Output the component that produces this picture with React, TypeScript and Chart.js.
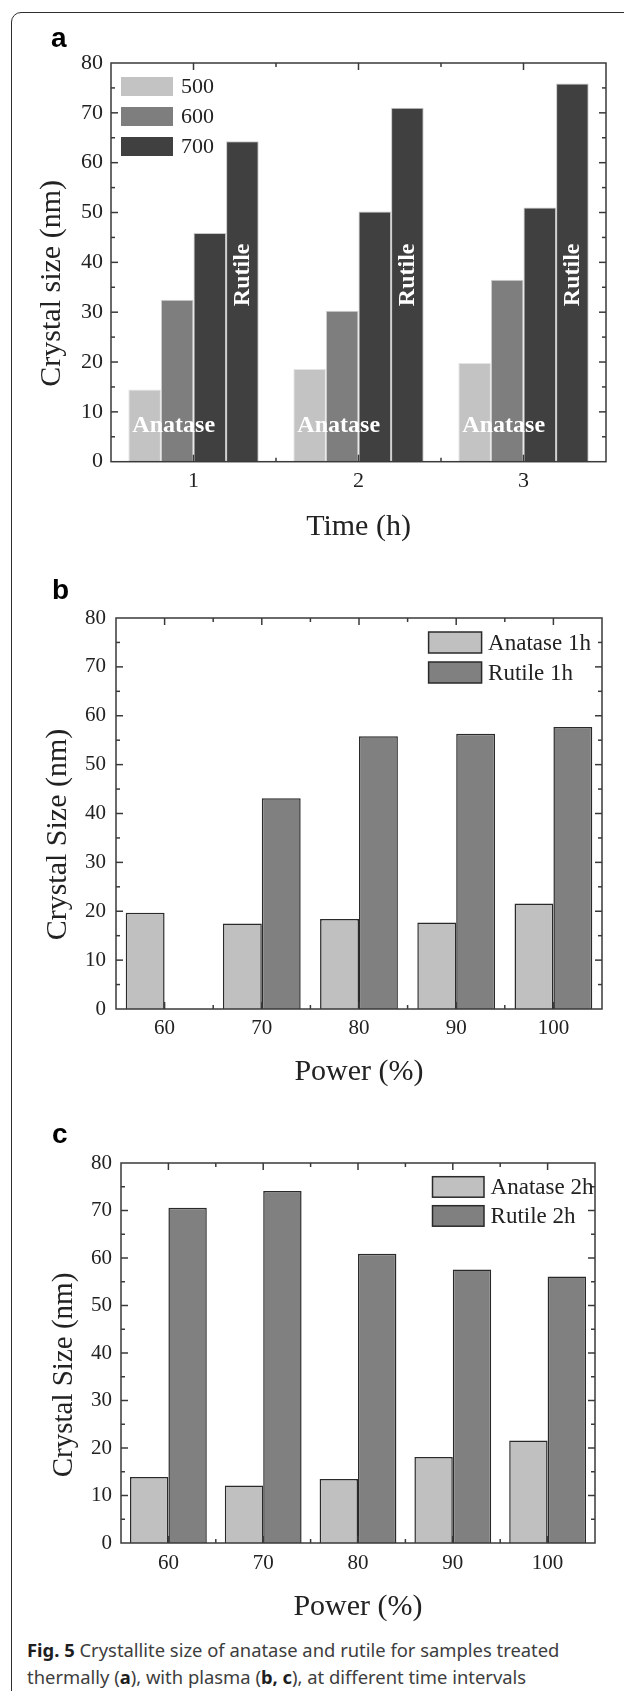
import React, { useEffect, useRef } from "react";
import { Chart, registerables } from "chart.js";

Chart.register(...registerables);

// ---------------- DATA ----------------
const timeLabels = ["1", "2", "3"];
const thermal500 = [14.5, 18.6, 19.8];
const thermal600 = [32.5, 30.3, 36.5];
const thermal700a = [45.9, 50.2, 51.0];
const thermal700b = [64.3, 71.0, 75.9];

const powerLabels = ["60", "70", "80", "90", "100"];
const anatase1h = [19.7, 17.5, 18.4, 17.7, 21.6];
const rutile1h = [null, 43.1, 55.8, 56.3, 57.7];
const anatase2h = [13.9, 12.1, 13.5, 18.1, 21.6];
const rutile2h = [70.6, 74.1, 60.9, 57.6, 56.1];

const yMin = 0;
const yMax = 80;
const yStep = 10;

const SERIF = '"Liberation Serif", "Times New Roman", serif';
const SANS = '"Liberation Sans", Arial, sans-serif';
const INK = "#222222";
const FRAME = "#3a3a3a";

// ---------------- PLUGIN ----------------
const decorPlugin = {
  id: "decor",
  afterDatasetsDraw(chart: any, _args: any, opts: any) {
    const ctx = chart.ctx as CanvasRenderingContext2D;
    const { left, right, top, bottom } = chart.chartArea;
    const xs = chart.scales.x;
    const ys = chart.scales.y;
    ctx.save();
    ctx.strokeStyle = FRAME;
    ctx.lineWidth = 1.5;
    const line = (x0: number, y0: number, x1: number, y1: number) => {
      ctx.beginPath();
      ctx.moveTo(x0, y0);
      ctx.lineTo(x1, y1);
      ctx.stroke();
    };
    // y ticks (major + minor), inward on both sides
    for (let v = yMin + yStep / 2; v < yMax; v += yStep / 2) {
      const py = ys.getPixelForValue(v);
      const len = Math.abs(v % yStep) < 1e-6 ? 7 : 4;
      line(left, py, left + len, py);
      line(right, py, right - len, py);
    }
    // x ticks: major at category centres, minor at boundaries
    const n = chart.data.labels.length;
    for (let i = 0; i < n; i++) {
      const px = xs.getPixelForValue(i);
      line(px, top, px, top + 7);
      line(px, bottom, px, bottom - 7);
      if (i > 0) {
        const bx = (xs.getPixelForValue(i - 1) + px) / 2;
        line(bx, top, bx, top + 4);
        line(bx, bottom, bx, bottom - 4);
      }
    }
    // frame
    ctx.strokeRect(left, top, right - left, bottom - top);

    // annotations (panel a)
    if (opts.annotate) {
      ctx.fillStyle = "#ffffff";
      ctx.font = `bold 24px ${SERIF}`;
      ctx.textAlign = "center";
      ctx.textBaseline = "middle";
      const catW = xs.getPixelForValue(1) - xs.getPixelForValue(0);
      const meta = chart.getDatasetMeta(3);
      for (let i = 0; i < n; i++) {
        const px = xs.getPixelForValue(i) - 0.12 * catW;
        ctx.fillText("Anatase", px, ys.getPixelForValue(7.3));
        const bar = meta.data[i];
        ctx.save();
        ctx.translate(bar.x, ys.getPixelForValue(37.5));
        ctx.rotate(-Math.PI / 2);
        ctx.fillText("Rutile", 0, 0);
        ctx.restore();
      }
    }

    // legend
    const lg = opts.legend;
    if (lg) {
      let k = 0;
      ctx.font = `${lg.fontSize}px ${SERIF}`;
      ctx.textAlign = "left";
      ctx.textBaseline = "middle";
      chart.data.datasets.forEach((ds: any) => {
        if (ds.hideInLegend) return;
        const bx = left + lg.dx;
        const by = top + lg.dy + k * lg.step;
        ctx.fillStyle = ds.backgroundColor;
        ctx.fillRect(bx, by, lg.w, lg.h);
        if (lg.border) {
          ctx.strokeStyle = "#2a2a2a";
          ctx.lineWidth = 1.5;
          ctx.strokeRect(bx, by, lg.w, lg.h);
        }
        ctx.fillStyle = INK;
        ctx.fillText(ds.label, bx + lg.w + lg.gap, by + lg.h / 2 + 1);
        k++;
      });
    }

    // y title
    if (opts.yTitle) {
      ctx.save();
      ctx.fillStyle = INK;
      ctx.font = `${opts.yTitleSize}px ${SERIF}`;
      ctx.textAlign = "center";
      ctx.textBaseline = "middle";
      ctx.translate(left - opts.yTitleDx, (top + bottom) / 2 + opts.yTitleDy);
      ctx.rotate(-Math.PI / 2);
      ctx.fillText(opts.yTitle, 0, 0);
      ctx.restore();
    }

    // panel letter
    if (opts.letter) {
      ctx.fillStyle = "#000000";
      ctx.font = `bold 28px ${SANS}`;
      ctx.textAlign = "left";
      ctx.textBaseline = "alphabetic";
      ctx.fillText(opts.letter, opts.letterX, opts.letterY);
    }
    ctx.restore();
  },
};

// ---------------- CONFIG ----------------
type PanelSpec = {
  labels: string[];
  datasets: any[];
  height: number;
  plotLeft: number;
  plotTop: number;
  plotRight: number;
  plotBottom: number;
  tickSize: number;
  yTickPad: number;
  xTickPad: number;
  xTitle: string;
  xTitleCenter: number;
  decor: any;
};

function buildConfig(p: PanelSpec): any {
  const W = 624;
  return {
    type: "bar",
    data: { labels: p.labels, datasets: p.datasets },
    plugins: [decorPlugin],
    options: {
      responsive: false,
      animation: false,
      events: [],
      layout: {
        padding: { left: 0, top: p.plotTop, right: W - p.plotRight, bottom: 0 },
      },
      plugins: {
        legend: { display: false },
        tooltip: { enabled: false },
        decor: p.decor,
      },
      scales: {
        x: {
          type: "category",
          offset: true,
          grid: { display: false, drawTicks: false },
          border: { display: false },
          ticks: {
            color: INK,
            font: { family: SERIF, size: p.tickSize },
            padding: p.xTickPad,
            maxRotation: 0,
          },
          title: {
            display: true,
            text: p.xTitle,
            color: INK,
            font: { family: SERIF, size: 30 },
            padding: { top: 0, bottom: p.height - p.xTitleCenter - 18 },
          },
          afterFit: (s: any) => {
            s.height = p.height - p.plotBottom;
          },
        },
        y: {
          min: yMin,
          max: yMax,
          grid: { display: false, drawTicks: false },
          border: { display: false },
          ticks: {
            stepSize: yStep,
            color: INK,
            font: { family: SERIF, size: p.tickSize },
            padding: p.yTickPad,
          },
          afterFit: (s: any) => {
            s.width = p.plotLeft;
          },
        },
      },
    },
  };
}

const panelA: PanelSpec = {
  labels: timeLabels,
  datasets: [
    { label: "500", data: thermal500, backgroundColor: "#c3c3c3", borderColor: "#e4e4e4", borderWidth: 1, categoryPercentage: 0.79, barPercentage: 1 },
    { label: "600", data: thermal600, backgroundColor: "#7e7e7e", borderColor: "#d0d0d0", borderWidth: 1, categoryPercentage: 0.79, barPercentage: 1 },
    { label: "700", data: thermal700a, backgroundColor: "#404040", borderColor: "#c8c8c8", borderWidth: 1, categoryPercentage: 0.79, barPercentage: 1 },
    { label: "700", data: thermal700b, backgroundColor: "#404040", borderColor: "#c8c8c8", borderWidth: 1, categoryPercentage: 0.79, barPercentage: 1, hideInLegend: true },
  ],
  height: 560,
  plotLeft: 111,
  plotTop: 63,
  plotRight: 606,
  plotBottom: 461.7,
  tickSize: 22,
  yTickPad: 8,
  xTickPad: 6,
  xTitle: "Time (h)",
  xTitleCenter: 527,
  decor: {
    annotate: true,
    legend: { dx: 10, dy: 14, step: 30, w: 52, h: 19, gap: 8, fontSize: 22, border: false },
    yTitle: "Crystal size (nm)",
    yTitleSize: 30,
    yTitleDx: 59,
    yTitleDy: 21,
    letter: "a",
    letterX: 51,
    letterY: 46.7,
  },
};

const panelB: PanelSpec = {
  labels: powerLabels,
  datasets: [
    { label: "Anatase 1h", data: anatase1h, backgroundColor: "#c0c0c0", borderColor: "#2a2a2a", borderWidth: 1.5, categoryPercentage: 0.8, barPercentage: 1 },
    { label: "Rutile 1h", data: rutile1h, backgroundColor: "#808080", borderColor: "#2a2a2a", borderWidth: 1.5, categoryPercentage: 0.8, barPercentage: 1 },
  ],
  height: 540,
  plotLeft: 116,
  plotTop: 58,
  plotRight: 602,
  plotBottom: 449,
  tickSize: 21,
  yTickPad: 10,
  xTickPad: 7,
  xTitle: "Power (%)",
  xTitleCenter: 512,
  decor: {
    legend: { dx: 312.6, dy: 14, step: 30, w: 53, h: 21, gap: 6.5, fontSize: 23, border: true },
    yTitle: "Crystal Size (nm)",
    yTitleSize: 30,
    yTitleDx: 58,
    yTitleDy: 21,
    letter: "b",
    letterX: 52,
    letterY: 38.6,
  },
};

const panelC: PanelSpec = {
  labels: powerLabels,
  datasets: [
    { label: "Anatase 2h", data: anatase2h, backgroundColor: "#c0c0c0", borderColor: "#2a2a2a", borderWidth: 1.5, categoryPercentage: 0.81, barPercentage: 1 },
    { label: "Rutile 2h", data: rutile2h, backgroundColor: "#808080", borderColor: "#2a2a2a", borderWidth: 1.5, categoryPercentage: 0.81, barPercentage: 1 },
  ],
  height: 530,
  plotLeft: 121,
  plotTop: 63,
  plotRight: 595,
  plotBottom: 443,
  tickSize: 21,
  yTickPad: 9,
  xTickPad: 8,
  xTitle: "Power (%)",
  xTitleCenter: 507,
  decor: {
    legend: { dx: 311.5, dy: 13.7, step: 29, w: 51.5, h: 20.5, gap: 6.6, fontSize: 23, border: true },
    yTitle: "Crystal Size (nm)",
    yTitleSize: 29,
    yTitleDx: 57,
    yTitleDy: 22,
    letter: "c",
    letterX: 52,
    letterY: 42.5,
  },
};

// ---------------- COMPONENTS ----------------
function Panel({ spec, top }: { spec: PanelSpec; top: number }) {
  const ref = useRef<HTMLCanvasElement | null>(null);
  useEffect(() => {
    if (!ref.current) return;
    const chart = new Chart(ref.current, buildConfig(spec));
    return () => chart.destroy();
  }, [spec]);
  return (
    <canvas
      ref={ref}
      width={624}
      height={spec.height}
      style={{ position: "absolute", left: 0, top, width: 624, height: spec.height, display: "block" }}
    />
  );
}

export default function App() {
  const capStyle: React.CSSProperties = {
    position: "absolute",
    left: 27,
    fontFamily: '"Noto Sans", "Open Sans", sans-serif',
    fontSize: 18.4,
    lineHeight: "27px",
    color: "#3d3d3d",
    whiteSpace: "nowrap",
  };
  return (
    <div
      style={{
        position: "absolute",
        left: 0,
        top: 0,
        width: 624,
        height: 1691,
        overflow: "hidden",
        background: "#ffffff",
      }}
    >
      <div
        style={{
          position: "absolute",
          left: 11,
          top: 12,
          width: 700,
          height: 1800,
          border: "1.5px solid #2e2e2e",
          borderRadius: 10,
          boxSizing: "border-box",
        }}
      />
      <Panel spec={panelA} top={0} />
      <Panel spec={panelB} top={560} />
      <Panel spec={panelC} top={1100} />
      <div style={{ ...capStyle, top: 1635.5 }}>
        <b style={{ color: "#1e1e1e" }}>Fig. 5</b> Crystallite size of anatase and rutile for samples treated
      </div>
      <div style={{ ...capStyle, top: 1662.5 }}>
        thermally (<b style={{ color: "#1e1e1e" }}>a</b>), with plasma (<b style={{ color: "#1e1e1e" }}>b, c</b>), at different time intervals
      </div>
    </div>
  );
}
